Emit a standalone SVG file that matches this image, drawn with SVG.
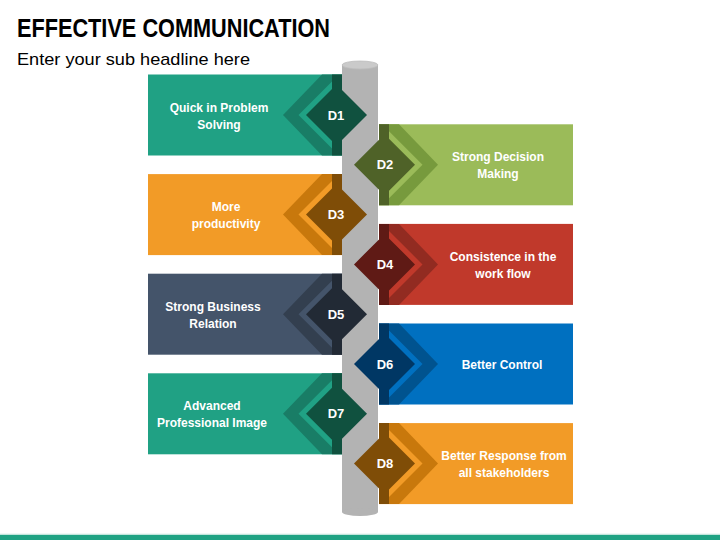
<svg xmlns="http://www.w3.org/2000/svg" width="720" height="540" viewBox="0 0 720 540">
<style>
text{font-family:"Liberation Sans",Arial,sans-serif;font-weight:bold;fill:#fff}
.lbl{font-size:12px;text-anchor:middle}
.dl{font-size:13px;text-anchor:middle}
.m{fill:var(--m)}.b{fill:var(--b)}.d{fill:var(--d)}
.teal{--m:#20a184;--b:#197d66;--d:#10513f}
.lime{--m:#9bbb59;--b:#779a3d;--d:#4f6228}
.orng{--m:#f29b27;--b:#c8780c;--d:#7f4d07}
.red{--m:#c0392b;--b:#922b21;--d:#5f1a15}
.slate{--m:#44546a;--b:#333f4f;--d:#222a35}
.blue{--m:#0070c0;--b:#00538f;--d:#003764}
</style>
<defs>
<g id="shape">
<rect class="m" x="148" y="-40.5" width="194" height="81" style="fill:var(--m)"/>
<polygon class="b" points="322,-40.5 342,-40.5 342,40.5 322,40.5 283,0" style="fill:var(--b)"/>
<polygon class="m" points="298.5,0 332,-33.5 332,33.5" style="fill:var(--m)"/>
<polygon class="d" points="332,-40.5 342,-40.5 342,-25 367,0 342,25 342,40.5 332,40.5 332,26 306,0 332,-26" style="fill:var(--d)"/>
</g>
</defs>
<rect width="720" height="540" fill="#fff"/>
<text x="17" y="37" font-size="25" textLength="313" lengthAdjust="spacingAndGlyphs" style="fill:#000">EFFECTIVE COMMUNICATION</text>
<text x="17" y="65" font-size="17" textLength="233" lengthAdjust="spacingAndGlyphs" style="fill:#000;font-weight:normal">Enter your sub headline here</text>
<g id="column">
<rect x="342" y="65" width="36" height="447" fill="#b3b3b3"/>
<ellipse cx="360" cy="512" rx="18" ry="4" fill="#b3b3b3"/>
<ellipse cx="360" cy="65" rx="18" ry="4" fill="#cacaca" stroke="#bcbcbc" stroke-width="0.8"/>
</g>
<g id="d1" class="teal" transform="translate(0,115)">
<use href="#shape"/>
<text class="dl" x="336" y="4.5">D1</text>
<text class="lbl" x="219" y="-3.5">Quick in Problem</text>
<text class="lbl" x="219" y="13.5">Solving</text>
</g>
<g id="d2" class="lime" transform="translate(0,164.8)">
<use href="#shape" transform="translate(721,0) scale(-1,1)"/>
<text class="dl" x="385" y="4.5">D2</text>
<text class="lbl" x="498" y="-3.5">Strong Decision</text>
<text class="lbl" x="498" y="13.5">Making</text>
</g>
<g id="d3" class="orng" transform="translate(0,214.6)">
<use href="#shape"/>
<text class="dl" x="336" y="4.5">D3</text>
<text class="lbl" x="226" y="-3.5">More</text>
<text class="lbl" x="226" y="13.5">productivity</text>
</g>
<g id="d4" class="red" transform="translate(0,264.4)">
<use href="#shape" transform="translate(721,0) scale(-1,1)"/>
<text class="dl" x="385" y="4.5">D4</text>
<text class="lbl" x="503" y="-3.5">Consistence in the</text>
<text class="lbl" x="503" y="13.5">work flow</text>
</g>
<g id="d5" class="slate" transform="translate(0,314.2)">
<use href="#shape"/>
<text class="dl" x="336" y="4.5">D5</text>
<text class="lbl" x="213" y="-3.5">Strong Business</text>
<text class="lbl" x="213" y="13.5">Relation</text>
</g>
<g id="d6" class="blue" transform="translate(0,364)">
<use href="#shape" transform="translate(721,0) scale(-1,1)"/>
<text class="dl" x="385" y="4.5">D6</text>
<text class="lbl" x="502" y="4.5">Better Control</text>
</g>
<g id="d7" class="teal" transform="translate(0,413.8)">
<use href="#shape"/>
<text class="dl" x="336" y="4.5">D7</text>
<text class="lbl" x="212" y="-3.5">Advanced</text>
<text class="lbl" x="212" y="13.5">Professional Image</text>
</g>
<g id="d8" class="orng" transform="translate(0,463.6)">
<use href="#shape" transform="translate(721,0) scale(-1,1)"/>
<text class="dl" x="385" y="4.5">D8</text>
<text class="lbl" x="504" y="-3.5">Better Response from</text>
<text class="lbl" x="504" y="13.5">all stakeholders</text>
</g>
<line x1="0" y1="534.3" x2="720" y2="534.3" stroke="#9fd6c8" stroke-width="0.8"/>
<rect x="0" y="535" width="720" height="5" fill="#1fa283"/>
</svg>
